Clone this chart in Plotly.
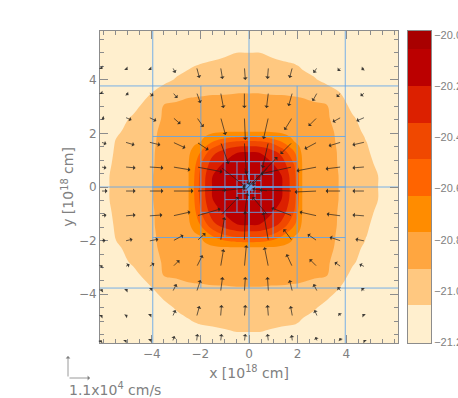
import numpy as np
import plotly.graph_objects as go

# ---- density field (one quadrant table, stretched per side by its node lists)
field_nodes_left = [-6.2, -5.5, -4.75, -4.0, -3.5, -3.0, -2.5, -2.25, -2.0, -1.5, -1.0, -0.5, 0.0]
field_nodes_right = [0.45, 0.9, 1.35, 1.88, 2.05, 2.2, 2.7, 3.2, 3.75, 4.25, 4.8, 6.3]
field_nodes_bottom = [-6.0, -5.1, -4.5, -3.78, -3.3, -2.8, -2.26, -2.05, -1.82, -1.4, -0.94, -0.47, 0.0]
field_nodes_top = [0.43, 0.86, 1.28, 1.67, 1.86, 2.07, 2.55, 3.05, 3.55, 4.0, 4.55, 5.9]
log_density = [
    [-20.00, -20.09, -20.14, -20.19, -20.44, -20.62, -20.78, -20.82, -20.87, -20.92, -20.99, -21.04, -21.09],
    [-20.09, -20.12, -20.15, -20.20, -20.45, -20.63, -20.78, -20.82, -20.87, -20.92, -21.00, -21.04, -21.09],
    [-20.14, -20.15, -20.18, -20.27, -20.50, -20.67, -20.78, -20.83, -20.875, -20.925, -21.00, -21.045, -21.10],
    [-20.19, -20.20, -20.27, -20.38, -20.62, -20.73, -20.79, -20.835, -20.88, -20.925, -21.01, -21.05, -21.11],
    [-20.44, -20.45, -20.50, -20.62, -20.77, -20.79, -20.80, -20.84, -20.885, -20.93, -21.02, -21.055, -21.12],
    [-20.62, -20.63, -20.67, -20.73, -20.79, -20.80, -20.805, -20.845, -20.89, -20.93, -21.025, -21.06, -21.13],
    [-20.78, -20.78, -20.78, -20.79, -20.80, -20.805, -20.81, -20.85, -20.89, -20.935, -21.03, -21.07, -21.14],
    [-20.82, -20.82, -20.83, -20.835, -20.84, -20.845, -20.85, -20.86, -20.90, -20.96, -21.045, -21.09, -21.16],
    [-20.87, -20.87, -20.875, -20.88, -20.885, -20.89, -20.89, -20.90, -20.91, -21.02, -21.08, -21.13, -21.18],
    [-20.92, -20.92, -20.925, -20.925, -20.93, -20.93, -20.935, -20.96, -21.02, -21.06, -21.12, -21.16, -21.20],
    [-20.99, -21.00, -21.00, -21.01, -21.02, -21.025, -21.03, -21.05, -21.08, -21.12, -21.17, -21.20, -21.22],
    [-21.04, -21.04, -21.045, -21.05, -21.055, -21.06, -21.07, -21.09, -21.13, -21.16, -21.20, -21.22, -21.24],
    [-21.09, -21.09, -21.10, -21.11, -21.12, -21.13, -21.14, -21.16, -21.18, -21.20, -21.22, -21.24, -21.25],
]

level_start = -21.057
level_end = -20.056
level_step = 0.143
band_edges = [-21.204, -21.057, -20.914, -20.771, -20.628, -20.485, -20.342, -20.199, -20.056, -19.984]
band_colors = ["#FFEFCE", "#FFC880", "#FFA640", "#FF8C00", "#FF6400", "#F04800", "#DC2000", "#BB0000", "#A80000"]
colorbar_ticks = [-21.2, -21.0, -20.8, -20.6, -20.4, -20.2, -20.0]

# ---- velocity arrows (unit: 0.5e3 cm/s), rows from top to bottom
arrow_x = [-6.11, -5.12, -4.14, -3.15, -2.16, -1.17, -0.19, 0.80, 1.79, 2.82, 3.81, 4.79]
arrow_y = [4.48, 3.54, 2.61, 1.68, 0.75, -0.15, -1.08, -2.02, -2.99, -3.92, -4.85, -5.78]
vel_x = [
    [2, 3, 3, 3, 3, 2, 1, -1, -3, -4, -4, -4],
    [2, 4, 5, 5, 4, 3, 0, -2, -4, -5, -5, -5],
    [4, 7, 8, 8, 7, 5, 1, -5, -8, -9, -9, -9],
    [6, 10, 12, 13, 12, 8, 2, -6, -12, -13, -13, -13],
    [6, 11, 15, 18, 26, 25, 5, -16, -32, -21, -16, -13],
    [7, 11, 15, 21, 30, 25, 33, -16, -33, -23, -16, -13],
    [6, 11, 14, 18, 24, 18, 3, -16, -21, -18, -15, -13],
    [5, 8, 10, 11, 9, 4, 1, -5, -9, -10, -12, -10],
    [2, 5, 6, 7, 6, 3, 2, -4, -6, -8, -7, -6],
    [2, 3, 4, 4, 4, 2, 1, -1, -3, -4, -4, -4],
    [2, 3, 3, 3, 3, 1, 1, -1, -2, -3, -3, -3],
    [1, 2, 3, 2, 1, 1, 1, -1, -1, -2, -2, -2],
]
vel_y = [
    [-2, -3, -3, -6, -11, -12, -13, -12, -11, -6, -4, -3],
    [-2, -3, -4, -6, -11, -16, -16, -16, -14, -9, -5, -4],
    [-2, -3, -4, -7, -10, -18, -23, -22, -13, -9, -5, -4],
    [-2, -3, -3, -6, -8, -22, -32, -26, -12, -7, -4, -3],
    [-1, -1, -1, -3, -5, -20, -18, -18, -7, -4, -2, -1],
    [0, 0, 0, 0, 1, 3, 34, 2, 1, -1, 0, 0],
    [1, 1, 1, 4, 7, 19, 23, 19, 8, 4, 2, 1],
    [1, 2, 2, 6, 8, 24, 30, 29, 12, 7, 4, 2],
    [2, 3, 4, 7, 12, 18, 22, 20, 13, 8, 5, 3],
    [3, 3, 4, 8, 12, 15, 15, 15, 12, 8, 5, 4],
    [2, 2, 3, 7, 11, 12, 12, 12, 11, 7, 4, 3],
    [2, 2, 3, 6, 8, 8, 8, 8, 7, 5, 4, 2],
]
legend_speed = 22

# ---- refinement grid half sizes
grid_half_x = [7.92, 3.96, 1.98, 0.99, 0.495, 0.248, 0.124, 0.062, 0.031]
grid_half_y = [7.54, 3.77, 1.89, 0.945, 0.472, 0.236, 0.118, 0.059, 0.03]

x_tick_values = [-4, -2, 0, 2, 4]
y_tick_values = [-4, -2, 0, 2, 4]

GREY = "#808080"
FONT = "Liberation Sans"
TITLE_FONT = "DejaVu Sans"
PX_X = 24.3
PX_Y = 26.8

q = np.array(log_density)
left = q[:, ::-1]                 # columns from far left to the centre
full_lower = np.hstack([left, q[:, 1:]])
rows_bottom_to_centre = full_lower[::-1]
rows_above = full_lower[1:]
z = np.vstack([rows_bottom_to_centre, rows_above])
xs = field_nodes_left + field_nodes_right
ys = field_nodes_bottom + field_nodes_top

fig = go.Figure()
scale_stops = [[i / (len(band_colors) - 1), c] for i, c in enumerate(band_colors)]
fig.add_trace(go.Contour(
    x=xs, y=ys, z=z, colorscale=scale_stops, showscale=False, hoverinfo="skip",
    autocontour=False,
    contours=dict(start=level_start, end=level_end, size=level_step, coloring="fill", showlines=False),
    line=dict(width=0),
))

gx, gy = [], []
for hx, hy in zip(grid_half_x, grid_half_y):
    for f in (-0.5, 0, 0.5):
        gx += [f * hx, f * hx, None, -hx, hx, None]
        gy += [-hy, hy, None, f * hy, f * hy, None]
fig.add_trace(go.Scatter(x=gx, y=gy, mode="lines", hoverinfo="skip", showlegend=False,
                         line=dict(color="rgba(95,165,235,0.85)", width=1)))

fig.add_trace(go.Bar(
    x=[0] * len(band_colors), y=np.diff(band_edges), base=band_edges[:-1], width=1,
    marker=dict(color=band_colors, line=dict(width=0)), xaxis="x2", yaxis="y2",
    showlegend=False, hoverinfo="skip",
))

annotations = []
for j, y0 in enumerate(arrow_y):
    for i, x0 in enumerate(arrow_x):
        annotations.append(dict(
            x=x0 + vel_x[j][i] / PX_X, y=y0 + vel_y[j][i] / PX_Y, ax=x0, ay=y0,
            xref="x", yref="y", axref="x", ayref="y", text="", showarrow=True,
            arrowhead=1, arrowsize=1.0, arrowwidth=0.8, arrowcolor="rgba(30,30,30,0.85)",
            standoff=0, startstandoff=0,
        ))

# key arrows below the plot (paper refs: plotly hides data-ref annotations outside the axis range)
annotations.append(dict(x=90 / 458, y=20 / 398, xref="paper", yref="paper", ax=-legend_speed, ay=0,
                        text="", showarrow=True, arrowhead=1, arrowsize=1.0, arrowwidth=0.8,
                        arrowcolor=GREY, standoff=0, startstandoff=0))
annotations.append(dict(x=68 / 458, y=42 / 398, xref="paper", yref="paper", ax=0, ay=legend_speed,
                        text="", showarrow=True, arrowhead=1, arrowsize=1.0, arrowwidth=0.8,
                        arrowcolor=GREY, standoff=0, startstandoff=0))
annotations.append(dict(
    x=67 / 458, y=9 / 398, xref="paper", yref="paper", xanchor="left", yanchor="middle", showarrow=False,
    text="1.1x10<sup>4</sup> cm/s", font=dict(family=TITLE_FONT, size=14, color=GREY),
))

axis_common = dict(
    automargin=False,
    showgrid=False, zeroline=False, showline=True, linecolor="#8c8c8c", linewidth=1, mirror="allticks",
    ticks="inside", ticklen=8, tickwidth=1, tickcolor="#8c8c8c",
    tickfont=dict(family=TITLE_FONT, size=12, color=GREY),
    minor=dict(dtick=0.5, ticks="inside", ticklen=4, tickwidth=1, tickcolor="#8c8c8c"),
)
fig.update_layout(
    width=458, height=398, margin=dict(l=0, r=0, t=0, b=0), autosize=False,
    paper_bgcolor="white", plot_bgcolor="white", showlegend=False, barmode="overlay", bargap=0,
    annotations=annotations,
    xaxis=dict(domain=[100 / 458, 398 / 458], range=[-6.13, 6.13], tickvals=x_tick_values,
               title=dict(text="x [10<sup>18</sup> cm]", standoff=7, font=dict(family=TITLE_FONT, size=14, color=GREY)),
               **axis_common),
    yaxis=dict(domain=[55 / 398, 367 / 398], range=[-5.82, 5.82], tickvals=y_tick_values,
               title=dict(text="y [10<sup>18</sup> cm]", standoff=1, font=dict(family=TITLE_FONT, size=14, color=GREY)),
               **axis_common),
    xaxis2=dict(domain=[408 / 458, 431 / 458], range=[-0.5, 0.5], anchor="y2", showticklabels=False, automargin=False,
                ticks="", showgrid=False, zeroline=False, showline=True, linecolor="#8c8c8c", mirror=True),
    yaxis2=dict(domain=[55 / 398, 367 / 398], range=[-21.204, -19.984], anchor="x2", side="right", automargin=False,
                tickvals=colorbar_ticks, ticktext=[f"\u2212{abs(v):.1f}" for v in colorbar_ticks],
                ticks="", showgrid=False, zeroline=False,
                showline=True, linecolor="#8c8c8c", mirror=True,
                tickfont=dict(family=FONT, size=11, color=GREY)),
)
fig.write_html("out.html", default_width="458px", default_height="398px",
               config=dict(displayModeBar=False),
               post_script="document.body.style.margin='0';document.documentElement.style.overflow='hidden';")
